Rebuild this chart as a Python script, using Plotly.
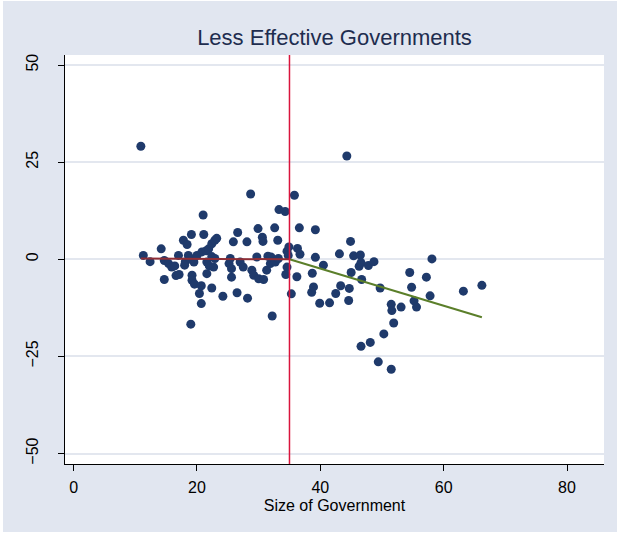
import plotly.graph_objects as go

# Observations: size of government vs. outcome residual
gov_size = [
    10.9, 11.3, 12.4, 14.2, 14.7, 14.7, 15.4, 15.9, 16.4, 16.6, 17.0, 17.1, 17.8, 18.0,
    18.1, 18.4, 18.6, 18.9, 19.1, 19.2, 19.2, 19.5, 19.6, 19.0, 20.0, 20.4, 20.7, 20.7,
    20.8, 21.0, 21.1, 21.5, 21.6, 21.6, 21.9, 22.0, 22.4, 22.4, 22.4, 22.7, 22.9, 22.9,
    23.2, 24.2, 25.2, 25.4, 25.6, 25.6, 25.9, 26.5, 26.6, 27.0, 27.5, 28.1, 28.2, 28.7,
    28.9, 29.2, 29.7, 29.9, 30.0, 30.6, 30.7, 30.8, 31.3, 31.5, 31.9, 32.0, 32.2, 32.6,
    32.7, 33.1, 33.2, 33.3, 34.3, 34.4, 34.6, 34.6, 34.8, 34.9,
    35.3, 35.8, 36.2, 36.3, 36.6, 36.7, 38.6, 38.7, 38.9, 39.2, 39.2, 39.9, 40.5, 41.5,
    42.5, 43.1, 43.3, 44.3, 44.6, 44.7, 44.9, 45.0, 45.4, 46.3, 46.5, 46.6, 46.6, 46.7,
    47.8, 48.1, 48.7, 49.4, 49.7, 50.3, 51.5, 51.5, 51.6, 51.9, 53.1, 54.5, 54.8, 55.2,
    55.6, 57.2, 57.8, 58.1, 63.2, 66.2,
]
outcome = [
    29.1, 1.0, -0.6, 2.7, -0.3, -5.2, -1.1, -2.0, -1.7, -4.2, 1.0, -3.9, 4.9, -1.5,
    -0.7, 3.8, 1.0, 0.2, 6.4, -4.1, -5.4, -0.7, -6.4, -16.7, 1.0, -8.8, -6.8, -11.4,
    1.9, 11.4, 6.4, 2.2, -0.7, -3.7, 2.7, -1.7, 4.0, 0.7, -7.4, -2.0, 4.9, 0.2,
    5.4, -9.5, -1.1, 0.2, -2.4, -4.6, 4.5, -8.6, 6.9, -0.7, -2.0, 4.5, -10.0, 16.8,
    -2.8, -4.1, 0.6, 7.9, -5.0, 5.7, 4.6, -5.2, -2.8, 0.8, -1.1, 0.6, -14.6, 8.1,
    -0.7, 4.9, 0.2, 12.8, 12.3, -3.9, 2.1, -2.0, 1.0, 3.2,
    -8.9, 16.5, -4.5, 2.8, 8.1, 1.3, -8.5, -3.6, -7.1, 7.6, 0.5, -11.3, -1.5, -11.2,
    -8.8, 1.4, -6.8, 26.6, -10.6, -7.5, 4.6, -3.4, 0.9, -1.8, 1.1, -0.9, -22.4, -5.2,
    -1.6, -21.4, -0.6, -26.4, -7.4, -19.2, -11.6, -28.3, -13.2, -16.4, -12.3, -3.4, -7.2, -10.7,
    -12.3, -4.6, -9.4, 0.1, -8.2, -6.7,
]

# Threshold and the two fitted segments on either side of it
threshold = 35.0
left_fit_x = [10.9, 35.0]
left_fit_y = [0.2, 0.0]
right_fit_x = [35.0, 66.2]
right_fit_y = [0.0, -14.9]

x_ticks = [0, 20, 40, 60, 80]
y_ticks = [-50, -25, 0, 25, 50]

BG = "#E1E6F0"
NAVY = "#1F3A6B"

fig = go.Figure()
fig.add_trace(go.Scatter(
    x=gov_size, y=outcome, mode="markers",
    marker=dict(size=9, color=NAVY, line=dict(width=0)),
    hoverinfo="x+y",
))
fig.add_trace(go.Scatter(
    x=left_fit_x, y=left_fit_y, mode="lines",
    line=dict(color="#8E2E36", width=2),
))
fig.add_trace(go.Scatter(
    x=right_fit_x, y=right_fit_y, mode="lines",
    line=dict(color="#5B7F2A", width=2),
))

# Page frame: grey region with a thin white rim, white plotting area
plot_w, plot_h = 619 - 65 - 15, 535 - 55 - 71
fig.add_shape(type="rect", xref="paper", yref="paper", layer="below",
              x0=(3 - 65) / plot_w, x1=(617 - 65) / plot_w,
              y0=-(71 - 3) / plot_h, y1=1 + (55 - 1) / plot_h,
              fillcolor=BG, line=dict(width=0))
fig.add_shape(type="rect", xref="paper", yref="paper", layer="below",
              x0=0, x1=1, y0=0, y1=1, fillcolor="white", line=dict(width=0))
fig.add_shape(type="line", xref="x", yref="paper", x0=threshold, x1=threshold,
              y0=0, y1=1, line=dict(color="#D9143C", width=1.5))

fig.update_layout(
    width=619, height=535,
    margin=dict(l=65, r=15, t=55, b=71),
    paper_bgcolor="white", plot_bgcolor="white",
    showlegend=False,
    font=dict(family="Liberation Sans, Arial, sans-serif", size=16, color="black"),
    title=dict(text="Less Effective Governments", x=0.5, xref="paper",
               xanchor="center", y=1 - 37 / 535, yanchor="middle",
               font=dict(size=22, color="#1E2D4F")),
    xaxis=dict(
        range=[-1.4, 86.0], tickvals=x_ticks, ticks="outside", ticklen=6,
        tickcolor="black", showgrid=False, zeroline=False, showline=True,
        linecolor="black", linewidth=1, ticklabelstandoff=3,
        title=dict(text="Size of Government", standoff=4, font=dict(size=16)),
    ),
    yaxis=dict(
        range=[-52.7, 52.6], tickvals=y_ticks, ticks="outside", ticklen=6,
        tickcolor="black", tickangle=-90, showgrid=True, gridcolor="#E3E7EF",
        gridwidth=1.5, zeroline=False, showline=True, linecolor="black",
        linewidth=1, ticklabelstandoff=14,
    ),
)

fig.write_html("out.html")
